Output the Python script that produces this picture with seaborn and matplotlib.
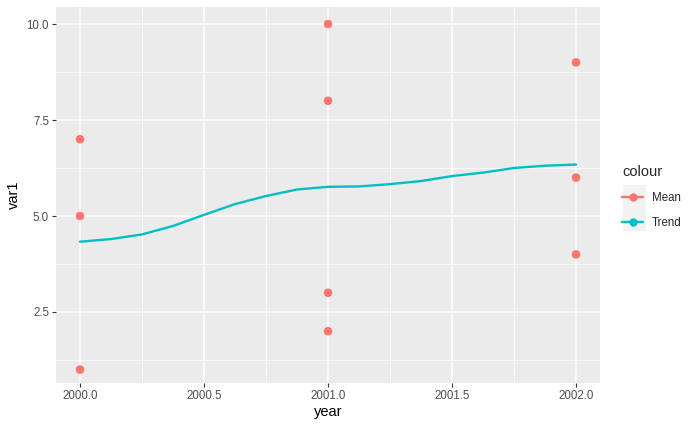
import numpy as np
import pandas as pd
import matplotlib
matplotlib.use("Agg")
import matplotlib.pyplot as plt
from matplotlib.lines import Line2D
from matplotlib.patches import Rectangle
import seaborn as sns

# Data
point_years = [2000, 2000, 2000, 2001, 2001, 2001, 2001, 2002, 2002, 2002]
point_vals = [7, 5, 1, 10, 8, 3, 2, 9, 6, 4]

trend_years = [2000.0, 2000.125, 2000.25, 2000.375, 2000.5, 2000.625, 2000.75, 2000.875,
               2001.0, 2001.125, 2001.25, 2001.375, 2001.5, 2001.625, 2001.75, 2001.875, 2002.0]
trend_vals = [4.33, 4.40, 4.52, 4.74, 5.03, 5.31, 5.52, 5.69,
              5.76, 5.77, 5.83, 5.91, 6.04, 6.13, 6.25, 6.31, 6.34]

x_ticks = [2000.0, 2000.5, 2001.0, 2001.5, 2002.0]
y_ticks = [2.5, 5.0, 7.5, 10.0]

RED = "#F8766D"
CYAN = "#00BFC4"

pts = pd.DataFrame({"year": point_years, "var1": point_vals})
trend = pd.DataFrame({"year": trend_years, "var1": trend_vals})

sns.set_theme(style="darkgrid")
plt.rcParams["font.family"] = ["Liberation Sans", "DejaVu Sans"]

fig = plt.figure(figsize=(7.0, 4.32), dpi=100)
ax = fig.add_axes([56/700, 1-383/432, (600-56)/700, (383-7)/432])
ax.set_facecolor("#EBEBEB")

sns.lineplot(data=trend, x="year", y="var1", color=CYAN, lw=1.7, ax=ax, zorder=3)
sns.scatterplot(data=pts, x="year", y="var1", color=RED, s=38, edgecolor="none", ax=ax, zorder=4)

ax.set_xlim(2000 - 24/248, 2002 + 24/248)
ax.set_ylim(10 - 359/38.4, 10 + 17/38.4)
ax.set_xticks(x_ticks)
ax.set_xticklabels([f"{v:.1f}" for v in x_ticks])
ax.set_yticks(y_ticks)
ax.set_yticklabels([f"{v:.1f}" for v in y_ticks])
ax.set_xticks([2000.25, 2000.75, 2001.25, 2001.75], minor=True)
ax.set_yticks([1.25, 3.75, 6.25, 8.75], minor=True)
ax.grid(which="major", color="white", lw=1.1)
ax.grid(which="minor", color="white", lw=0.55)
ax.set_axisbelow(True)
for s in ax.spines.values():
    s.set_visible(False)
ax.tick_params(which="major", length=3, width=0.8, color="#333333", labelsize=8.3,
               labelcolor="#4D4D4D", pad=2, bottom=True, left=True)
ax.tick_params(which="minor", length=0)
ax.set_xlabel("year", fontsize=10.5, color="black", labelpad=2)
ax.set_ylabel("var1", fontsize=10.5, color="black", labelpad=4)

handles = [Line2D([0], [0], color=RED, lw=1.7, marker="o", markersize=6, markeredgecolor="none"),
           Line2D([0], [0], color=CYAN, lw=1.7, marker="o", markersize=6, markeredgecolor="none")]
fig.add_artist(Rectangle((623/700, 1-231/432), 23/700, 46/432, transform=fig.transFigure,
                         facecolor="#F2F2F2", edgecolor="none", zorder=0))
fig.text(622/700, 1-172/432, "colour", fontsize=10.5, ha="left", va="center")
leg = fig.legend(handles, ["Mean", "Trend"], loc="center left",
                 bbox_to_anchor=(621/700, 1-210.5/432), frameon=False, fontsize=8.3,
                 handlelength=1.8, handletextpad=0.75,
                 labelspacing=1.1, borderpad=0.1, borderaxespad=0)

fig.savefig("out.png", dpi=100)
